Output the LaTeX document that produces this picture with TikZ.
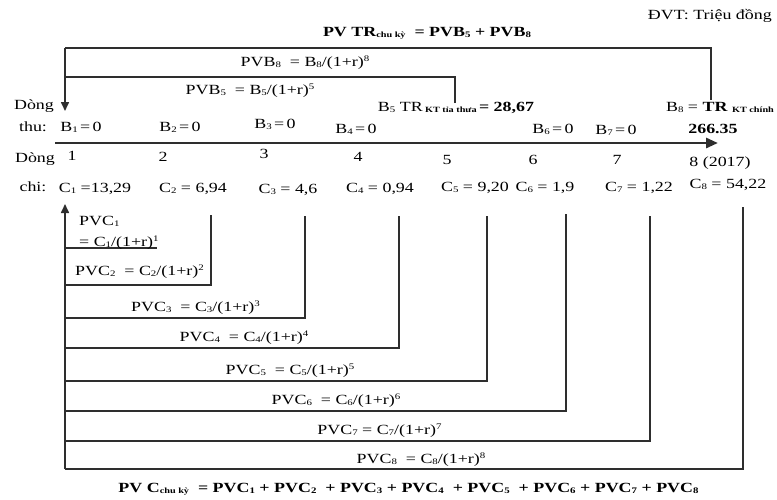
\documentclass[tikz,border=0pt]{standalone}
\usepackage{fontspec}
\setmainfont{Liberation Serif}[FakeStretch=1.28]
\usetikzlibrary{arrows.meta}
\newcommand{\mysub}[1]{\raisebox{-1.2pt}{\fontsize{8.5}{8.5}\selectfont #1}}
\newcommand{\mysup}[1]{\raisebox{4.8pt}{\fontsize{8.5}{8.5}\selectfont #1}}
\newcommand{\mysmall}[1]{\raisebox{-1.5pt}{\fontsize{8}{8}\selectfont #1}}
\begin{document}
\begin{tikzpicture}[x=1pt,y=-1pt,
  txt/.style={inner sep=0pt, anchor=base, font=\fontsize{14}{17}\selectfont},
  btxt/.style={txt, font=\fontsize{14}{17}\selectfont\bfseries},
  ln/.style={draw=black!82, line width=1.6pt},
  tip/.style={-{Triangle[width=8pt,length=9pt]}}]
\useasboundingbox (0,0) rectangle (777,499);

% ---- top texts
\node[txt, anchor=base east] (dvt) at (772,19) {ĐVT: Triệu đồng};
\node[btxt] (title) at (427,36) {PV TR\mysmall{chu kỳ}\ \ = PVB\mysub{5} + PVB\mysub{8}};
\node[txt] (pvb8) at (305,66) {PVB\mysub{8}\ \ = B\mysub{8}/(1+r)\mysup{8}};
\node[txt] (pvb5) at (250,94) {PVB\mysub{5}\ \ = B\mysub{5}/(1+r)\mysup{5}};

% ---- top brackets
\coordinate (tl) at (65,48);
\coordinate (tr) at (711,48);
\coordinate (tre) at (711,100);
\coordinate (dtip) at (65,111);
\draw[ln] (tre) -- (tr) -- (tl);
\draw[ln,tip] (tl) -- (dtip);
\coordinate (il) at (65,77);
\coordinate (ir) at (455,77);
\coordinate (ire) at (455,103);
\draw[ln] (ire) -- (ir) -- (il);

% ---- benefit row
\node[txt] (dong1) at (34,109) {Dòng};
\node[txt] (thu) at (33,131) {thu:};
\node[txt] (b5) at (456,111) {B\mysub{5} TR\,\mysmall{\bfseries KT tỉa thưa}\,\textbf{= 28,67}};
\node[txt] (b8) at (720,111) {B\mysub{8} = \textbf{TR} \mysmall{\bfseries KT chính}};
\node[btxt] (b8v) at (713,133) {266.35};
\node[txt] (b1) at (81,131) {B\mysub{1}\,=\,0};
\node[txt] (b2) at (180,131) {B\mysub{2}\,=\,0};
\node[txt] (b3) at (275,128) {B\mysub{3}\,=\,0};
\node[txt] (b4) at (356,133) {B\mysub{4}\,=\,0};
\node[txt] (b6) at (553,133) {B\mysub{6}\,=\,0};
\node[txt] (b7) at (616,134) {B\mysub{7}\,=\,0};

% ---- timeline
\coordinate (ts) at (55,143);
\coordinate (te) at (718,143);
\draw[draw=black!82, line width=2.8pt, -{Triangle[width=10pt,length=12pt]}] (ts) -- (te);

% ---- years
\node[txt] (dong2) at (35,162) {Dòng};
\node[txt] (n1) at (72,160) {1};
\node[txt] (n2) at (163,161) {2};
\node[txt] (n3) at (264,158) {3};
\node[txt] (n4) at (358,161) {4};
\node[txt] (n5) at (447,164) {5};
\node[txt] (n6) at (533,164) {6};
\node[txt] (n7) at (617,164) {7};
\node[txt] (n8) at (720,166) {8 (2017)};

% ---- cost row
\node[txt] (chi) at (33,191) {chi:};
\node[txt] (c1) at (95,192) {C\mysub{1} =13,29};
\node[txt] (c2) at (193,192) {C\mysub{2} = 6,94};
\node[txt] (c3) at (288,193) {C\mysub{3} = 4,6};
\node[txt] (c4) at (380,192) {C\mysub{4} = 0,94};
\node[txt] (c5) at (475,191) {C\mysub{5} = 9,20};
\node[txt] (c6) at (545,191) {C\mysub{6} = 1,9};
\node[txt] (c7) at (639,191) {C\mysub{7} = 1,22};
\node[txt] (c8) at (728,188) {C\mysub{8} = 54,22};

% ---- discount brackets for costs
\coordinate (lb) at (65,469);
\coordinate (utip) at (65,204);
\draw[ln,tip] (lb) -- (utip);

\coordinate (h1l) at (65,248);
\coordinate (h1r) at (157,248);
\draw[ln] (h1l) -- (h1r);

\coordinate (v2t) at (211,215); \coordinate (v2b) at (211,285); \coordinate (h2l) at (65,285);
\coordinate (v3t) at (305,216); \coordinate (v3b) at (305,318); \coordinate (h3l) at (65,318);
\coordinate (v4t) at (399,216); \coordinate (v4b) at (399,348); \coordinate (h4l) at (65,348);
\coordinate (v5t) at (487,216); \coordinate (v5b) at (487,381); \coordinate (h5l) at (65,381);
\coordinate (v6t) at (566,214); \coordinate (v6b) at (566,411); \coordinate (h6l) at (65,411);
\coordinate (v7t) at (650,216); \coordinate (v7b) at (650,441); \coordinate (h7l) at (65,441);
\coordinate (v8t) at (743,207); \coordinate (v8b) at (743,469); \coordinate (h8l) at (65,469);
\foreach \k in {2,...,8}{
  \draw[ln] (v\k t) -- (v\k b) -- (h\k l);
}

\node[txt, anchor=base west] (pvc1a) at (79,225) {PVC\mysub{1}};
\node[txt, anchor=base west] (pvc1b) at (79,246) {= C\mysub{1}/(1+r)\mysup{1}};
\node[txt] (pvc2) at (139.5,275.5) {PVC\mysub{2}\ \ = C\mysub{2}/(1+r)\mysup{2}};
\node[txt] (pvc3) at (195.5,311.5) {PVC\mysub{3}\ \ = C\mysub{3}/(1+r)\mysup{3}};
\node[txt] (pvc4) at (244,341.5) {PVC\mysub{4}\ \ = C\mysub{4}/(1+r)\mysup{4}};
\node[txt] (pvc5) at (290,374.5) {PVC\mysub{5}\ \ = C\mysub{5}/(1+r)\mysup{5}};
\node[txt] (pvc6) at (336,404.5) {PVC\mysub{6}\ \ = C\mysub{6}/(1+r)\mysup{6}};
\node[txt] (pvc7) at (379.5,434.5) {PVC\mysub{7} = C\mysub{7}/(1+r)\mysup{7}};
\node[txt] (pvc8) at (421,463) {PVC\mysub{8}\ \ = C\mysub{8}/(1+r)\mysup{8}};

\node[btxt] (total) at (408.5,492) {PV C\mysmall{chu kỳ}\ \ = PVC\mysub{1} + PVC\mysub{2}\ \ + PVC\mysub{3} + PVC\mysub{4}\ \ + PVC\mysub{5}\ \ + PVC\mysub{6} + PVC\mysub{7} + PVC\mysub{8}};
\end{tikzpicture}
\end{document}
